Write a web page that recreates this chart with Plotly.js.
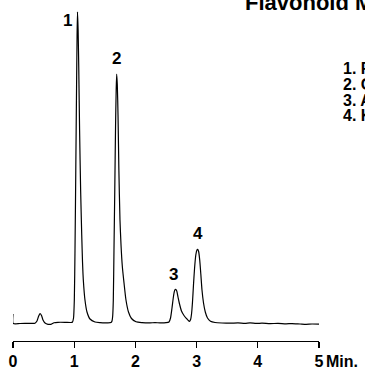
<!DOCTYPE html>
<html>
<head>
<meta charset="utf-8">
<script src="https://cdn.plot.ly/plotly-3.0.1.min.js"></script>
<style>
  html, body { margin: 0; padding: 0; background: #fff; }
  #chart { width: 365px; height: 370px; }
</style>
</head>
<body>
<div id="chart"></div>
<script>
// Chromatogram trace (time in minutes, detector signal in arbitrary units)
const timeMin = [
  0.000, 0.003, 0.114, 0.278, 0.359, 0.392, 0.417, 0.441, 0.466, 0.490,
  0.523, 0.572, 0.621, 0.670, 0.735, 0.850, 0.948, 0.972, 0.989, 1.002,
  1.013, 1.026, 1.038, 1.047, 1.054, 1.064, 1.075, 1.088, 1.105, 1.123,
  1.136, 1.149, 1.176, 1.209, 1.258, 1.340, 1.422, 1.520, 1.601, 1.618,
  1.629, 1.639, 1.650, 1.663, 1.676, 1.686, 1.694, 1.704, 1.716, 1.730,
  1.748, 1.765, 1.786, 1.814, 1.846, 1.887, 1.936, 2.010, 2.108, 2.239,
  2.320, 2.402, 2.500, 2.549, 2.574, 2.598, 2.623, 2.642, 2.658, 2.676,
  2.696, 2.721, 2.753, 2.794, 2.835, 2.868, 2.884, 2.902, 2.917, 2.933,
  2.949, 2.967, 2.987, 3.007, 3.018, 3.033, 3.051, 3.069, 3.088, 3.113,
  3.142, 3.178, 3.227, 3.301, 3.415, 3.546, 3.676, 3.791, 3.873, 3.971,
  4.069, 4.199, 4.330, 4.461, 4.559, 4.690, 4.788, 4.886, 5.000
];
const signal = [
  9.0, -0.5, -0.5, -0.3, -0.2, 2.0, 6.5, 9.5, 7.5, 3.0,
  0.0, -1.3, -1.3, 0.2, 0.7, 0.7, 0.5, 1.0, 5, 23,
  73, 153, 233, 288, 311, 293, 253, 193, 133, 88,
  61, 43, 23, 11, 4, 1, 0.4, 0.2, 0.4, 2,
  7, 23, 73, 133, 198, 233, 249, 239, 208, 153,
  103, 78, 57, 40, 23, 11, 4.5, 1.2, 0.4, 0.1,
  0.4, 0.1, 0.3, 1, 5, 15, 27, 32.7, 33.7, 32,
  26, 19, 12, 7.5, 4.5, 2.2, 1.7, 3.5, 9, 21,
  38, 55, 68, 73.2, 73.7, 71.5, 63, 49, 33, 20,
  11, 5, 1.8, 0.5, 0.0, -0.2, 0.1, -0.3, 0.2, -0.4,
  -0.2, -0.6, -0.4, -0.8, -0.6, -1.0, -1.3, -1.0, -1.2
];

// Peak apexes and their labels
const peakLabels = ['1', '2', '3', '4'];
const peakTime = [1.054, 1.694, 2.658, 3.018];
const peakHeight = [311, 249, 33.7, 73.7];

// Legend list and title
const chartTitle = 'Flavonoid Mix';
const compoundNames = ['1. Rutin', '2. Quercetin', '3. Apigenin', '4. Kaempferol'];

// Axis ticks
const tickVals = [0, 1, 2, 3, 4, 5];
const tickText = ['0', '1', '2', '3', '4', '5'];
const axisUnit = 'Min.';

const FONT = 'Liberation Sans, Arial, Helvetica, sans-serif';
const boldFont = (size) => ({ family: FONT, size: size, color: '#000', weight: 'bold' });

// label pixel offsets from each apex
const labelShift = [[-10.5, -8], [0, 15.5], [-1.7, 14.6], [0, 16.3]];

const annotations = [];
peakLabels.forEach((lab, i) => {
  annotations.push({
    x: peakTime[i], y: peakHeight[i], xref: 'x', yref: 'y',
    text: lab, showarrow: false, xanchor: 'center', yanchor: 'middle',
    xshift: labelShift[i][0], yshift: labelShift[i][1],
    font: boldFont(17)
  });
});

// title (runs off the right edge, as in the reference)
annotations.push({
  x: 0.7516, y: 0.9924, xref: 'paper', yref: 'paper',
  text: chartTitle, showarrow: false, xanchor: 'left', yanchor: 'middle',
  font: boldFont(22)
});

const legendY = [0.7977, 0.7522, 0.7067, 0.6613];
compoundNames.forEach((name, i) => {
  annotations.push({
    x: 1.0735, y: legendY[i], xref: 'paper', yref: 'paper',
    text: name, showarrow: false, xanchor: 'left', yanchor: 'middle',
    font: boldFont(16)
  });
});

annotations.push({
  x: 1.0163, y: -0.0587, xref: 'paper', yref: 'paper',
  text: axisUnit, showarrow: false, xanchor: 'left', yanchor: 'middle',
  font: boldFont(16)
});

const trace = {
  x: timeMin, y: signal, type: 'scatter', mode: 'lines',
  line: { color: '#000', width: 1.2, shape: 'spline', smoothing: 0.6 },
  hoverinfo: 'skip'
};

const layout = {
  width: 365, height: 370,
  margin: { l: 13, r: 46, t: 0, b: 29, pad: 0 },
  paper_bgcolor: '#fff', plot_bgcolor: '#fff',
  showlegend: false,
  xaxis: {
    range: [0, 5], tickvals: tickVals, ticktext: tickText,
    ticks: 'outside', ticklen: 6, tickwidth: 1.2, tickcolor: '#000',
    showline: true, linewidth: 1.2, linecolor: '#000',
    showgrid: false, zeroline: false, fixedrange: true,
    tickfont: boldFont(16)
  },
  yaxis: { range: [-18, 323], visible: false, fixedrange: true },
  annotations: annotations
};

Plotly.newPlot('chart', [trace], layout, { displayModeBar: false, staticPlot: true });
</script>
</body>
</html>
